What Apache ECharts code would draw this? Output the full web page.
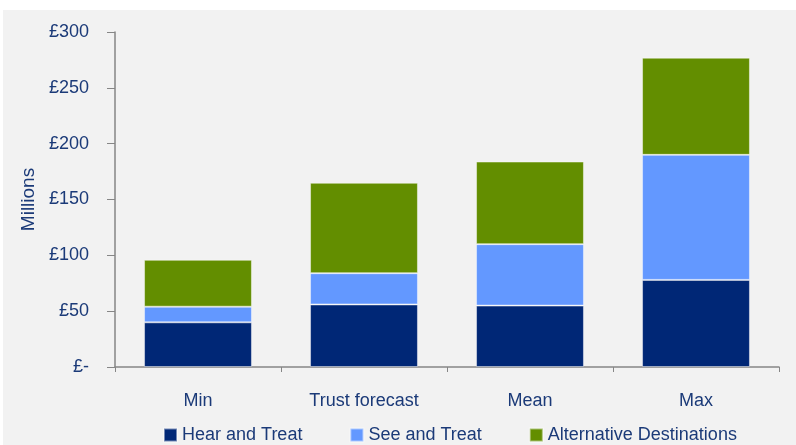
<!DOCTYPE html>
<html>
<head>
<meta charset="utf-8">
<script src="https://cdn.jsdelivr.net/npm/echarts@6/dist/echarts.min.js"></script>
<style>
  html, body { margin: 0; padding: 0; background: #fff; }
  #chart { position: absolute; left: 3px; top: 10px; width: 793px; height: 435px; background: #F2F2F2; }
</style>
</head>
<body>
<div id="chart"></div>
<script>
  // values in £ millions
  var categories = ['Min', 'Trust forecast', 'Mean', 'Max']
  var hearAndTreat = [40, 56, 55, 78]
  var seeAndTreat = [14, 28, 55, 112]
  var altDestinations = [42, 81, 74, 87]
  var yTicks = { min: 0, max: 300, interval: 50 }

  var textColor = '#1B3A78'
  var font = 'Liberation Sans'

  var chart = echarts.init(document.getElementById('chart'))

  function barSeries(name, data, color) {
    return {
      name: name,
      type: 'bar',
      stack: 'total',
      barWidth: '65%',
      data: data,
      itemStyle: { color: color, borderColor: 'rgba(255,255,255,0.45)', borderWidth: 1 }
    }
  }

  chart.setOption({
    animation: false,
    textStyle: { fontFamily: font },
    grid: { left: 112, top: 22, right: 17, bottom: 78 },
    legend: {
      bottom: -4,
      left: 155,
      itemWidth: 13,
      itemHeight: 13,
      itemGap: 47,
      textStyle: { color: textColor, fontSize: 18, fontFamily: font },
      icon: 'rect'
    },
    xAxis: {
      type: 'category',
      data: categories,
      axisLine: { lineStyle: { color: '#868686', width: 1.5 } },
      axisTick: { show: true, length: 5, lineStyle: { color: '#868686' } },
      axisLabel: { color: textColor, fontSize: 18, margin: 25 }
    },
    yAxis: {
      type: 'value',
      min: yTicks.min,
      max: yTicks.max,
      interval: yTicks.interval,
      name: 'Millions',
      nameLocation: 'middle',
      nameRotate: 90,
      nameGap: 77,
      nameTextStyle: { color: textColor, fontSize: 19 },
      axisLine: { show: true, lineStyle: { color: '#868686', width: 1.5 } },
      axisTick: { show: true, length: 8, lineStyle: { color: '#868686' } },
      splitLine: { show: false },
      axisLabel: {
        color: textColor,
        fontSize: 18,
        margin: 26,
        formatter: function (v) { return v === 0 ? '£-' : '£' + v }
      }
    },
    series: [
      barSeries('Hear and Treat', hearAndTreat, '#002776'),
      barSeries('See and Treat', seeAndTreat, '#6398FF'),
      barSeries('Alternative Destinations', altDestinations, '#638E00')
    ]
  })
</script>
</body>
</html>
